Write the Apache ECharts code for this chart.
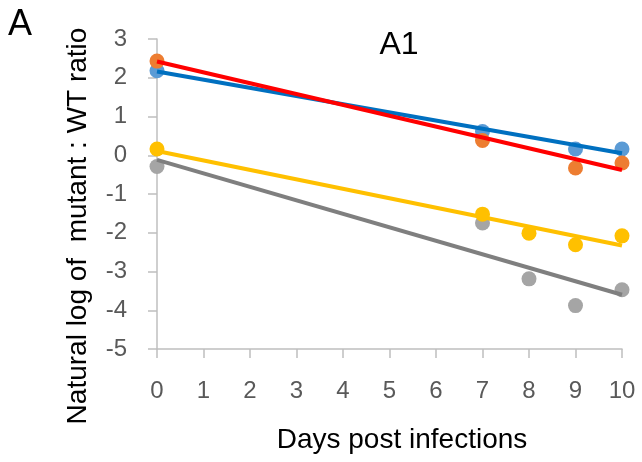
<!DOCTYPE html>
<html>
<head>
<meta charset="utf-8">
<script src="https://cdn.jsdelivr.net/npm/echarts@6/dist/echarts.min.js"></script>
<style>html,body{margin:0;padding:0;background:#fff}#c{width:642px;height:462px}</style>
</head>
<body>
<div id="c"></div>
<script>
// Data
const days = [0, 7, 8, 9, 10];
const blueValues = [2.18, 0.61, null, 0.16, 0.16];
const orangeValues = [2.43, 0.38, null, -0.33, -0.20];
const grayValues = [-0.29, -1.75, -3.19, -3.88, -3.47];
const yellowValues = [0.16, -1.52, -2.01, -2.31, -2.08];
// Trend line endpoints at day 0 and day 10
const trendDays = [0, 10];
const blueTrend = [2.16, 0.05];
const redTrend = [2.42, -0.38];
const yellowTrend = [0.11, -2.33];
const grayTrend = [-0.12, -3.60];
const xTicks = [0, 1, 2, 3, 4, 5, 6, 7, 8, 9, 10];
const yTicks = [-5, -4, -3, -2, -1, 0, 1, 2, 3];

const FONT = 'Liberation Sans, Arial, sans-serif';
function pts(xs, ys) {
  const out = [];
  xs.forEach((x, i) => { if (ys[i] !== null) out.push([x, ys[i]]); });
  return out;
}
function scatter(vals, color) {
  return { type: 'scatter', data: pts(days, vals), symbolSize: 15,
    itemStyle: { color: color, opacity: 1 }, z: 2, silent: true };
}
function trend(vals, color) {
  return { type: 'line', data: pts(trendDays, vals), symbol: 'none',
    lineStyle: { color: color, width: 4 }, z: 3, silent: true };
}
const chart = echarts.init(document.getElementById('c'), null, { renderer: 'canvas' });
chart.setOption({
  animation: false,
  backgroundColor: '#fff',
  grid: { left: 157, right: 20, top: 39, bottom: 113 },
  xAxis: {
    type: 'value', min: xTicks[0], max: xTicks[xTicks.length - 1], interval: 1,
    axisLine: { onZero: false, lineStyle: { color: '#bfbfbf', width: 1.5 } },
    axisTick: { show: true, length: 9, lineStyle: { color: '#bfbfbf', width: 1.5 } },
    axisLabel: { margin: 30, fontFamily: FONT, fontSize: 24, color: '#595959' },
    splitLine: { show: false }
  },
  yAxis: {
    type: 'value', min: yTicks[0], max: yTicks[yTicks.length - 1], interval: 1,
    axisLine: { show: true, onZero: false, lineStyle: { color: '#bfbfbf', width: 1.5 } },
    axisTick: { show: true, length: 9, lineStyle: { color: '#bfbfbf', width: 1.5 } },
    axisLabel: { margin: 30, fontFamily: FONT, fontSize: 24, color: '#595959' },
    splitLine: { show: false }
  },
  graphic: [
    { type: 'text', x: 20, y: 25, style: { text: 'A', fontFamily: FONT, fontSize: 36, fill: '#000',
        align: 'center', verticalAlign: 'middle' } },
    { type: 'text', x: 399, y: 45, style: { text: 'A1', fontFamily: FONT, fontSize: 32, fill: '#000',
        align: 'center', verticalAlign: 'middle' } },
    { type: 'text', x: 78, y: 226, rotation: Math.PI / 2,
      style: { text: 'Natural log of  mutant : WT ratio', fontFamily: FONT, fontSize: 28, fill: '#000',
        align: 'center', verticalAlign: 'middle' } },
    { type: 'text', x: 402, y: 440,
      style: { text: 'Days post infections', fontFamily: FONT, fontSize: 28, fill: '#000',
        align: 'center', verticalAlign: 'middle' } }
  ],
  series: [
    scatter(grayValues, '#a5a5a5'),
    scatter(yellowValues, '#ffc000'),
    scatter(blueValues, '#5b9bd5'),
    scatter(orangeValues, '#ed7d31'),
    trend(grayTrend, '#7f7f7f'),
    trend(yellowTrend, '#ffc000'),
    trend(blueTrend, '#0070c0'),
    trend(redTrend, '#ff0000')
  ]
});
</script>
</body>
</html>
